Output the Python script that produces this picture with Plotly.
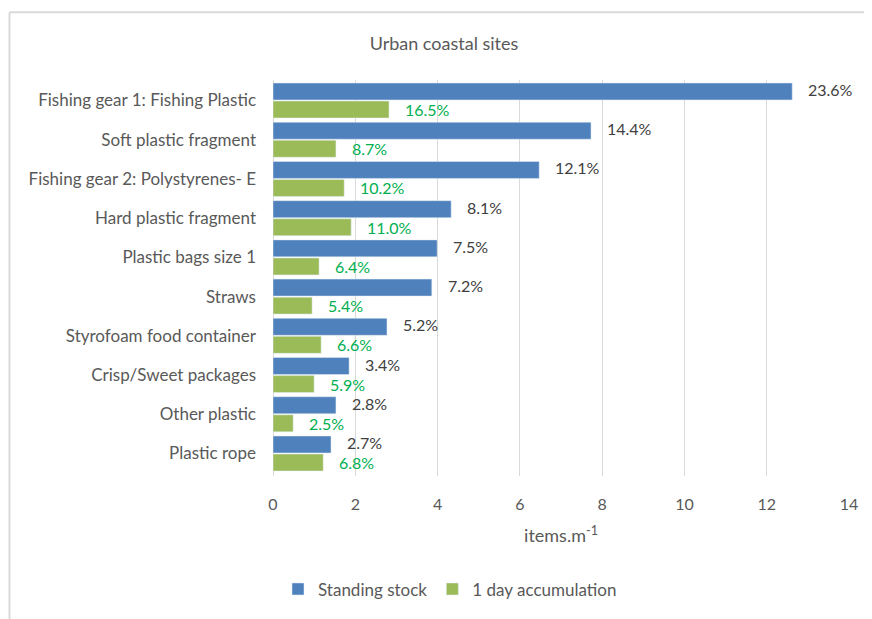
import plotly.graph_objects as go

categories = ["Fishing gear 1: Fishing Plastic", "Soft plastic fragment",
              "Fishing gear 2: Polystyrenes- E", "Hard plastic fragment",
              "Plastic bags size 1", "Straws", "Styrofoam food container",
              "Crisp/Sweet packages", "Other plastic", "Plastic rope"]
standing_stock = [12.62, 7.73, 6.47, 4.33, 3.99, 3.86, 2.77, 1.85, 1.53, 1.41]
standing_pct = ["23.6%", "14.4%", "12.1%", "8.1%", "7.5%", "7.2%", "5.2%", "3.4%", "2.8%", "2.7%"]
accumulation = [2.82, 1.53, 1.73, 1.90, 1.12, 0.95, 1.17, 1.00, 0.49, 1.22]
accum_pct = ["16.5%", "8.7%", "10.2%", "11.0%", "6.4%", "5.4%", "6.6%", "5.9%", "2.5%", "6.8%"]
x_ticks = [0, 2, 4, 6, 8, 10, 12, 14]

FONT = "Lato"
BLUE = "#4F81BD"
GREEN = "#9BBB59"
GRAY = "#595959"

fig = go.Figure()
fig.add_trace(go.Bar(y=categories, x=standing_stock, orientation="h", name="Standing stock",
                     marker=dict(color=BLUE)))
fig.add_trace(go.Bar(y=categories, x=accumulation, orientation="h", name="1 day accumulation",
                     marker=dict(color=GREEN)))

annotations = []
for i, c in enumerate(categories):
    annotations.append(dict(x=standing_stock[i], y=c, text=standing_pct[i], xref="x", yref="y",
                            xanchor="left", yanchor="middle", xshift=14, yshift=11,
                            showarrow=False, font=dict(family=FONT, size=16, color="#404040")))
    annotations.append(dict(x=accumulation[i], y=c, text=accum_pct[i], xref="x", yref="y",
                            xanchor="left", yanchor="middle", xshift=14, yshift=-9,
                            showarrow=False, font=dict(family=FONT, size=16, color="#00B050")))

# page body has an 8px margin, so the figure is drawn 8px smaller and offset
W, H = 864, 611
bx = (9.5 - 273) / 576
by = (478 - 12) / 398
fig.update_layout(
    width=W, height=H,
    margin=dict(l=265, r=23, t=72, b=141),
    paper_bgcolor="white", plot_bgcolor="white",
    barmode="group", bargap=0.08, bargroupgap=0.06,
    font=dict(family=FONT, size=16, color=GRAY),
    title=dict(text="Urban coastal sites", x=(444 - 8) / W, xanchor="center", y=1 - (44 - 8) / H,
               yanchor="middle", font=dict(family=FONT, size=18, color=GRAY)),
    xaxis=dict(range=[0, 14], tickvals=x_ticks, showgrid=True, gridcolor="#d9d9d9", gridwidth=1,
               zeroline=True, zerolinecolor="#d9d9d9", zerolinewidth=1,
               ticks="", ticklabelstandoff=17, tickfont=dict(family=FONT, size=16, color=GRAY),
               title=dict(text="items.m<sup>-1</sup>", standoff=17,
                          font=dict(family=FONT, size=18, color=GRAY))),
    yaxis=dict(autorange="reversed", ticks="", ticklabelstandoff=16,
               tickfont=dict(family=FONT, size=17, color=GRAY), showgrid=False),
    legend=dict(orientation="h", x=(450 - 273) / 576, xanchor="center", y=(478 - 592) / 398,
                yanchor="middle", font=dict(family=FONT, size=17, color=GRAY),
                traceorder="normal"),
    annotations=annotations,
    shapes=[
        dict(type="line", xref="paper", yref="paper", x0=bx, x1=2.0, y0=by, y1=by,
             line=dict(color="#d9d9d9", width=2), layer="above"),
        dict(type="line", xref="paper", yref="paper", x0=bx, x1=bx, y0=by, y1=-1.0,
             line=dict(color="#d9d9d9", width=2), layer="above"),
    ],
)

fig.write_html("out.html")
